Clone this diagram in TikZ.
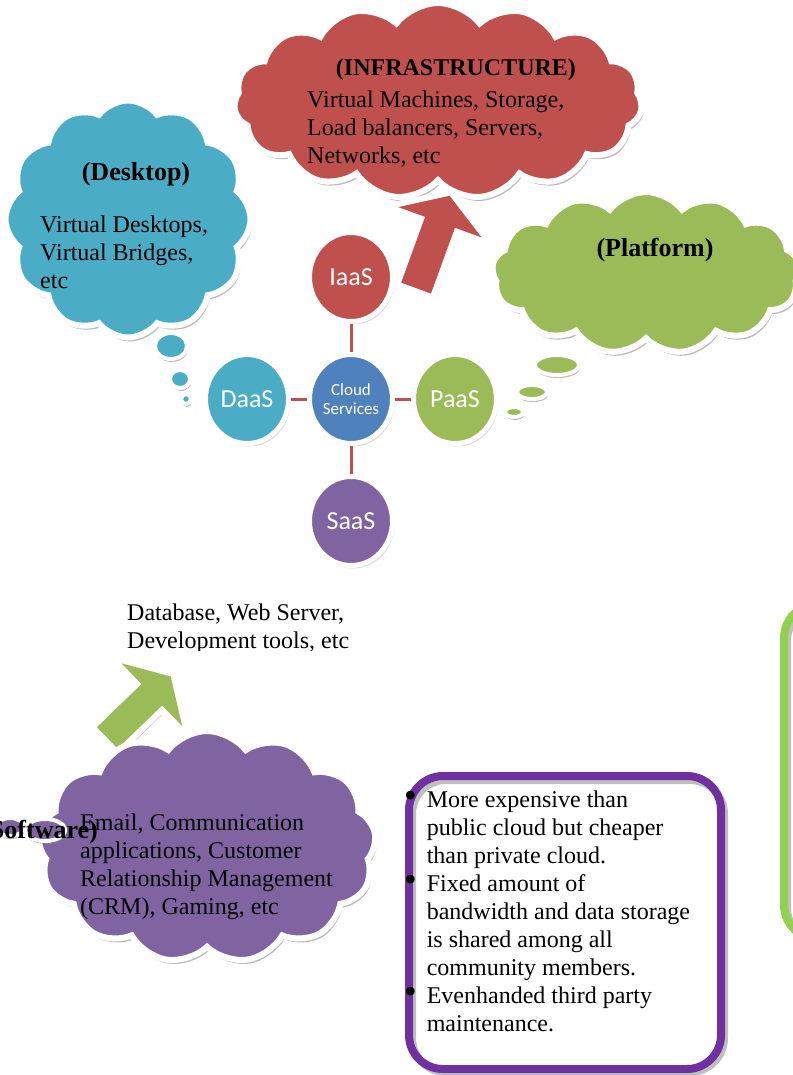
\documentclass[tikz,border=0pt]{standalone}
\usepackage{fontspec}
\setmainfont{Liberation Serif}
\newfontfamily\carlito{Carlito}
\usetikzlibrary{shapes.symbols, shapes.geometric, shadows, positioning}
\definecolor{iaasred}{HTML}{C0504D}
\definecolor{daasblue}{HTML}{4BACC6}
\definecolor{paasgreen}{HTML}{9BBB59}
\definecolor{saaspurple}{HTML}{8064A2}
\definecolor{csblue}{HTML}{4F81BD}
\definecolor{boxpurple}{HTML}{7030A0}
\definecolor{boxgreen}{HTML}{92D050}
\newcommand*{\bigbullet}{\scalebox{1.5}{\textbullet}}

\begin{document}
\begin{tikzpicture}[x=1pt, y=1pt, node distance=122pt, on grid,
      bubble/.style={cloud, cloud puffs=#1, cloud puff arc=105, cloud ignores aspect, draw=white, line width=6pt, inner sep=0pt,
        drop shadow={shadow xshift=2pt, shadow yshift=-4pt, fill=black!45, opacity=.6}},
      bubble/.default=10,
      puff/.style={ellipse, draw=white, line width=4pt, inner sep=0pt,
        drop shadow={shadow xshift=1pt, shadow yshift=-3pt, fill=black!45, opacity=.6}},
      svc/.style={ellipse, minimum width=83pt, minimum height=89pt, inner sep=0pt, draw=white, line width=5pt,
        fill=#1, text=white, font=\carlito\fontsize{26}{30}\selectfont,
        drop shadow={shadow xshift=2pt, shadow yshift=-3pt, opacity=.3}},
      blockarrow/.style={draw=white, line width=6pt, line join=miter, fill=#1,
        drop shadow={shadow xshift=2pt, shadow yshift=-3pt, fill=black!45, opacity=.6}},
      cloudtitle/.style={font=\fontsize{26}{30}\selectfont\bfseries, inner sep=0pt},
      body/.style={font=\fontsize{24}{28}\selectfont, align=left, anchor=north west, inner sep=0pt},
      link/.style={draw=iaasred, line width=3pt}]
  \useasboundingbox (0,0) rectangle (792,-1075);

  % clouds
  \node[bubble=12, fill=daasblue, minimum width=245pt, minimum height=237pt] (desk) at (128,-219) {};
  \node[bubble=15, fill=iaasred, minimum width=408pt, minimum height=196pt] (infra) at (438,-101) {};
  \node[puff, fill=daasblue, minimum width=32pt, minimum height=26pt] (d1) at (171,-346) {};
  \node[puff, fill=daasblue, minimum width=20pt, minimum height=18pt] (d2) at (180,-379) {};
  \node[puff, fill=daasblue, minimum width=10pt, minimum height=10pt] (d3) at (186,-399) {};

  \draw[blockarrow=iaasred, shift={(415,-291)}, rotate=70]
    (0,-19) -- (70,-19) -- (70,-55) -- (105,0) -- (70,55) -- (70,19) -- (0,19) -- cycle;

  \node[bubble=13, fill=paasgreen, minimum width=308pt, minimum height=162pt] (plat) at (646,-273) {};
  \node[puff, fill=paasgreen, minimum width=44pt, minimum height=20pt] (p1) at (557,-365) {};
  \node[puff, fill=paasgreen, minimum width=30pt, minimum height=14pt] (p2) at (532,-392) {};
  \node[puff, fill=paasgreen, minimum width=18pt, minimum height=10pt] (p3) at (514,-412) {};

  \node[cloudtitle] (desktitle) at (136,-174) {(Desktop)};
  \node[body] (desktext) at (40,-216) {Virtual Desktops,\\Virtual Bridges,\\etc};
  \node[cloudtitle, font=\fontsize{24}{28}\selectfont\bfseries] (infratitle) at (456,-70) {(INFRASTRUCTURE)};
  \node[body] (infratext) at (307,-91) {Virtual Machines, Storage,\\Load balancers, Servers,\\Networks, etc};
  \node[cloudtitle] (plattitle) at (655,-250) {(Platform)};

  % services
  \node[svc=csblue, font=\carlito\fontsize{17}{19}\selectfont, align=center] (cs) at (351,-399) {Cloud\\Services};
  \node[svc=iaasred, above=of cs] (iaas) {IaaS};
  \node[svc=saaspurple, below=of cs] (saas) {SaaS};
  \node[svc=daasblue, left=104pt of cs] (daas) {DaaS};
  \node[svc=paasgreen, right=104pt of cs] (paas) {PaaS};
  \path[link] (cs) edge (iaas) (cs) edge (saas) (cs) edge (daas) (cs) edge (paas);

  % software
  \begin{scope}
    \clip (100,-585) rectangle (420,-650);
    \node[body] (dbtext) at (127,-604) {Database, Web Server,\\Development tools, etc};
  \end{scope}
  \draw[blockarrow=paasgreen, shift={(105,-740)}, rotate=44]
    (0,-18) -- (62,-18) -- (62,-55) -- (95,0) -- (62,55) -- (62,18) -- (0,18) -- cycle;
  \node[bubble=13, fill=saaspurple, minimum width=338pt, minimum height=232pt] (soft) at (207,-847) {};
  \node[puff, fill=saaspurple, minimum width=40pt, minimum height=22pt] (s1) at (45,-830) {};
  \node[puff, fill=saaspurple, minimum width=28pt, minimum height=18pt] (s2) at (10,-827) {};
  \node[cloudtitle, anchor=east] (softtitle) at (98,-832) {(Software)};
  \node[body] (softtext) at (80,-814) {Email, Communication\\applications, Customer\\Relationship Management\\(CRM), Gaming, etc};

  % boxes
  \draw[black!25, line width=8pt, rounded corners=34pt] (412,-780) rectangle (724,-1072);
  \draw[boxpurple, line width=8pt, rounded corners=34pt] (409,-776) rectangle (721,-1069);
  \draw[black!25, line width=8pt, rounded corners=34pt] (787,-607) rectangle (1000,-942);
  \draw[boxgreen, line width=8pt, rounded corners=34pt] (784,-604) rectangle (1000,-939);
  \node[anchor=north west, inner sep=0pt, font=\fontsize{24}{28}\selectfont] (community) at (404,-788)
    {\begin{tabular}{@{}l@{\hspace{10pt}}l@{}}
      \bigbullet & More expensive than\\
                 & public cloud but cheaper\\
                 & than private cloud.\\
      \bigbullet & Fixed amount of\\
                 & bandwidth and data storage\\
                 & is shared among all\\
                 & community members.\\
      \bigbullet & Evenhanded third party\\
                 & maintenance.
    \end{tabular}};
\end{tikzpicture}
\end{document}
